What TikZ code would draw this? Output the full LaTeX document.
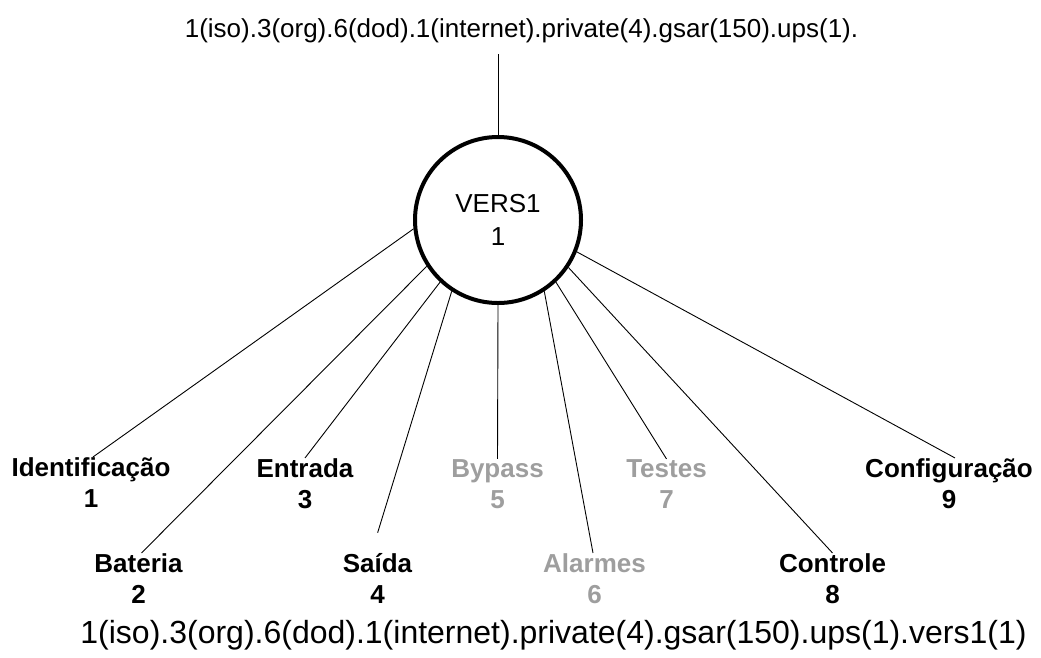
\documentclass[tikz,border=0pt]{standalone}
\usepackage{fontspec}
\setmainfont{Liberation Sans}
\definecolor{dimtext}{RGB}{158,158,158}
\begin{document}
\begin{tikzpicture}[x=1pt,y=-1pt,
  lbl/.style={font=\bfseries\fontsize{26}{31}\selectfont, align=center, inner sep=0pt, anchor=base},
  dim/.style={text=dimtext},
  wire/.style={line width=0.9pt},
  hub/.style={circle, draw, line width=4pt, minimum size=166pt, inner sep=0pt,
              align=center, font=\fontsize{26}{33}\selectfont}]
\useasboundingbox (0,0) rectangle (1041,657);

% central object and its OID path
\node[hub] (v) at (498,220) {VERS1\\1};
\node[font=\fontsize{26}{31}\selectfont, anchor=base, inner sep=0pt] (root) at (521.5,37)
  {1(iso).3(org).6(dod).1(internet).private(4).gsar(150).ups(1).};
\node[font=\fontsize{32}{38}\selectfont, anchor=base, inner sep=0pt] (oid) at (553.5,643)
  {1(iso).3(org).6(dod).1(internet).private(4).gsar(150).ups(1).vers1(1)};
\coordinate (rootend) at (498,54);
\draw[wire] (rootend) -- (v.north);

% child groups (anchored on the baseline of the number line)
\node[lbl] (id)  at (91,507)    {Identificação\\1};
\node[lbl] (bat) at (138.5,603) {Bateria\\2};
\node[lbl] (ent) at (305,508)   {Entrada\\3};
\node[lbl] (sai) at (377.5,603) {Saída\\4};
\node[lbl,dim] (byp) at (497.5,508) {Bypass\\5};
\node[lbl,dim] (ala) at (594.5,603) {Alarmes\\6};
\node[lbl,dim] (tes) at (666.5,508) {Testes\\7};
\node[lbl] (con) at (832.5,603) {Controle\\8};
\node[lbl] (cfg) at (949,508)   {Configuração\\9};

% connectors
\draw[wire] (v.186)   -- ([xshift=2pt]id.north);
\draw[wire] (v.213.7) -- ([xshift=3pt]bat.north);
\draw[wire] (v.227.3) -- (ent.north);
\draw[wire, shorten >=21pt] (v.237.2) -- ([xshift=-6pt]sai.north);
\draw[wire] (v.270)   -- (byp.north);
\draw[wire] (v.303.9) -- ([xshift=-1.5pt]ala.north);
\draw[wire] (v.313.2) -- (tes.north);
\draw[wire] (v.326.7) -- (con.north);
\draw[wire] (v.338.7) -- ([xshift=6pt]cfg.north);
\end{tikzpicture}
\end{document}
